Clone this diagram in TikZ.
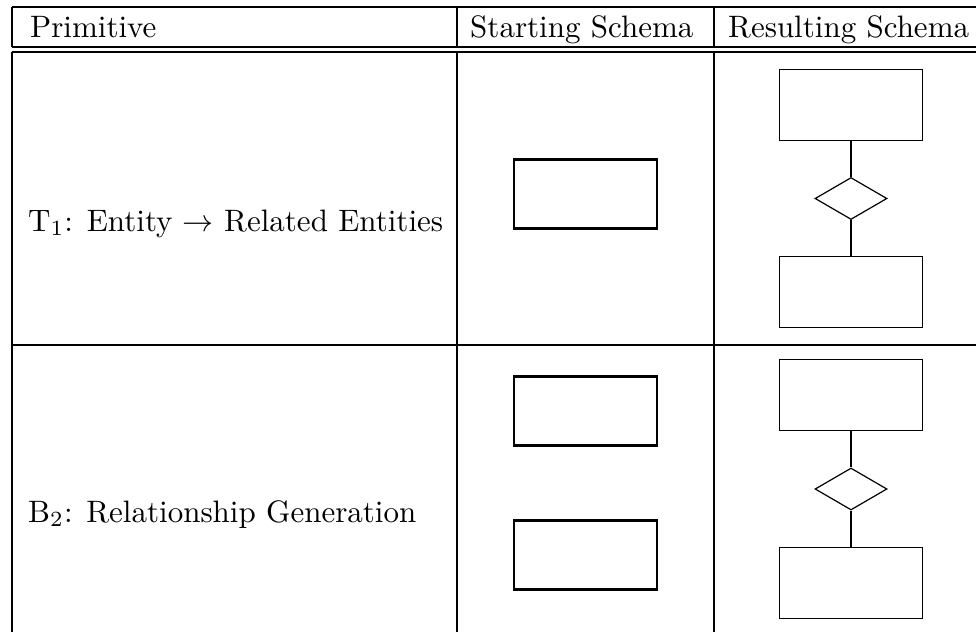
\documentclass[tikz,border=0pt]{standalone}
\usepackage{graphicx}
\usetikzlibrary{shapes.geometric}
\newcommand{\bigtext}[1]{\scalebox{3.1}{\fontsize{10}{12}\selectfont #1}}
\begin{document}
\begin{tikzpicture}[x=1pt,y=-1pt,
  rule/.style={line width=1.6pt},
  txt/.style={inner sep=0pt,anchor=base west},
  startbox/.style={draw,line width=2.4pt,minimum width=143pt,minimum height=69pt,inner sep=0pt},
  resbox/.style={draw,line width=1.5pt,minimum width=143pt,minimum height=71pt,inner sep=0pt},
  rel/.style={draw,diamond,line width=1.2pt,minimum width=72pt,minimum height=42pt,inner sep=0pt},
  link/.style={line width=1.5pt}]
\useasboundingbox (0,0) rectangle (976,632);
% table rules
\draw[rule] (12,7) -- (976,7);
\draw[rule] (12,47) -- (976,47);
\draw[rule] (12,52) -- (976,52);
\draw[rule] (12,345) -- (976,345);
\draw[rule] (12,7) -- (12,47);
\draw[rule] (457,7) -- (457,47);
\draw[rule] (714,7) -- (714,47);
\draw[rule] (12,52) -- (12,632);
\draw[rule] (457,52) -- (457,632);
\draw[rule] (714,52) -- (714,632);
% header
\node[txt] (h1) at (30,37) {\bigtext{Primitive}};
\node[txt] (h2) at (470,37) {\bigtext{Starting Schema}};
\node[txt] (h3) at (728,37) {\bigtext{Resulting Schema}};
% row 1
\node[txt] (p1) at (28,231) {\bigtext{T$_1$: Entity $\rightarrow$ Related Entities}};
\node[startbox] (s1) at (585.5,194) {};
\node[resbox] (r1a) at (851,105) {};
\node[rel] (d1) at (851,198.5) {};
\node[resbox] (r1b) at (851,292) {};
\draw[link] (r1a) -- (d1);
\draw[link] (d1) -- (r1b);
% row 2
\node[txt] (p2) at (28,522) {\bigtext{B$_2$: Relationship Generation}};
\node[startbox] (s2a) at (585.5,411) {};
\node[startbox] (s2b) at (585.5,555) {};
\node[resbox] (r2a) at (851,395) {};
\node[rel] (d2) at (851,489) {};
\node[resbox] (r2b) at (851,583) {};
\draw[link] (r2a) -- (d2);
\draw[link] (d2) -- (r2b);
\end{tikzpicture}
\end{document}
